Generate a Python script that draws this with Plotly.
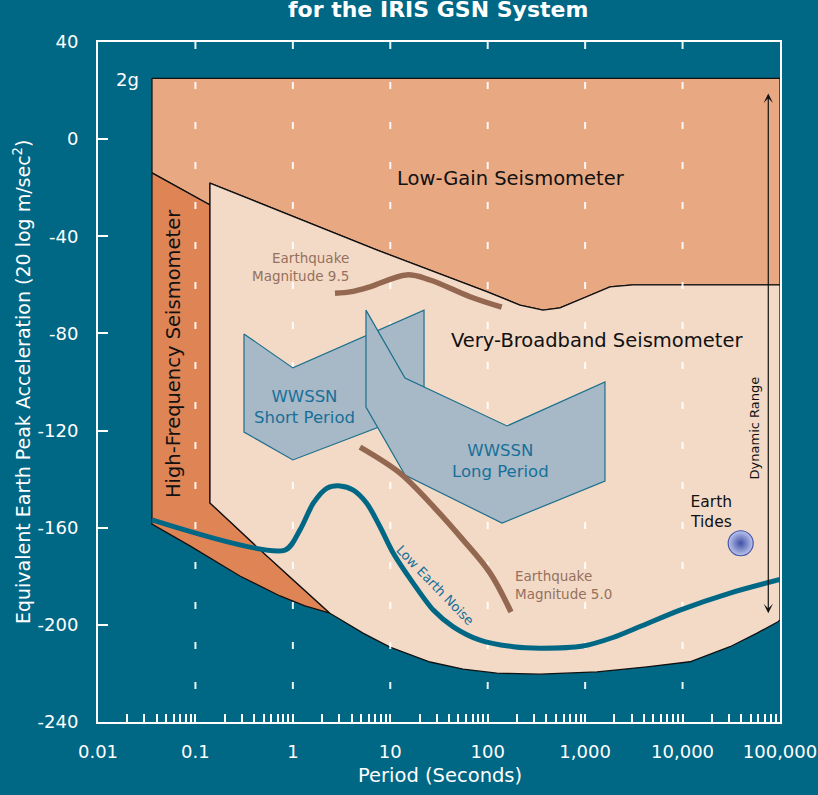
import math
import plotly.graph_objects as go

# ---------------- data (period in seconds, level in dB = 20 log m/s^2) ----------------
# Low-gain seismometer upper limit (2g)
lg_top_period = [0.0358, 100000]
lg_top_db = [25, 25]

# High-frequency seismometer top edge
hf_top_period = [0.0358, 0.141]
hf_top_db = [-13.9, -27.1]

# Very-broadband seismometer upper clip level (left to right)
vbb_top_period = [0.141, 7.24, 97.7, 214, 369, 552, 1038, 1799, 3098, 100000]
vbb_top_db = [-18.1, -45.6, -62.8, -68.3, -70.4, -69.5, -64.9, -60.8, -60.0, -60.0]

# Very-broadband lower-left edge (shared with high-frequency region)
vbb_left_period = [0.141, 0.428, 0.934, 2.40]
vbb_left_db = [-149.8, -167.9, -180.3, -195.2]

# High-frequency seismometer lower edge
hf_bottom_period = [0.0358, 0.0879, 0.286, 0.738, 1.33, 2.40]
hf_bottom_db = [-158.5, -167.5, -179.9, -188.1, -192.2, -195.2]

# Very-broadband self-noise floor (left to right)
vbb_bottom_period = [2.40, 5.25, 9.93, 25.6, 55.8, 124, 344, 1325, 4318, 11920, 30690, 57500, 95300, 100000]
vbb_bottom_db = [-195.2, -203.4, -209.2, -215.3, -218.2, -219.9, -220.3, -219.4, -217.3, -215.2, -209.0, -203.5, -198.7, -198.0]

# WWSSN instrument ranges
sp_period = [0.315, 1.0, 22.2, 22.2, 1.0, 0.315]
sp_db = [-80.2, -94.2, -70.4, -111.5, -132.1, -120.6]
lp_period = [5.63, 14.16, 157.8, 1598, 1598, 140.2, 14.16, 5.63]
lp_db = [-70.4, -98.4, -118.1, -100.0, -140.8, -158.1, -138.3, -110.3]

# Earthquake spectra
eq95_period = [2.707, 4.0, 6.19, 14.74, 25.55, 65.8, 139.1]
eq95_db = [-63.5, -62.8, -60.8, -55.9, -58.0, -64.9, -69.2]
eq50_period = [4.89, 12.58, 25.55, 55.8, 105.5, 173.3]
eq50_db = [-126.8, -137.5, -149.8, -165.0, -178.6, -194.7]

# Low Earth Noise model
len_period = [0.0358, 0.830, 1.184, 1.621, 2.225, 3.046, 4.172, 5.727, 7.843, 10.74, 17.23,
              27.63, 44.33, 83.3, 183.0, 344.0, 950.5, 1931, 3656, 9408, 30680, 100000]
len_db = [-156.8, -169.2, -160.9, -149.9, -143.8, -142.8, -144.5, -149.9, -159.6, -170.5, -182.9,
          -193.9, -200.8, -206.3, -209.0, -209.6, -208.7, -205.2, -200.7, -193.9, -186.9, -181.3]

# Earth tides
tides_period = [39500]
tides_db = [-166.4]

# Dynamic range arrow (period, top, bottom)
dr_period = 75800
dr_top_db = 19.4
dr_bottom_db = -195.2

# Axes
x_tick_vals = [0.01, 0.1, 1, 10, 100, 1000, 10000, 100000]
x_tick_text = ["0.01", "0.1", "1", "10", "100", "1,000", "10,000", "100,000"]
minor_mult = [2, 3, 4, 5, 6, 7, 8, 9]
grid_decades = [0.1, 1, 10, 100, 1000, 10000]
y_tick_vals = [-240, -200, -160, -120, -80, -40, 0, 40]
y_tick_text = ["-240", "-200", "-160", "-120", "-80", "-40", "0", "40"]

# ---------------- styling ----------------
TEAL = "#006785"
LOWGAIN = "#e7a882"
HIFREQ = "#df8455"
VBB = "#f3dac7"
WW_FILL = "#a7b8c6"
WW_LINE = "#1b6f8c"
WW_TEXT = "#17709a"
BROWN = "#946751"
BROWN_TXT = "#95705d"
FONT = "DejaVu Sans"

fig = go.Figure()


def polygon(xs, ys, fill, color, width):
    xs = list(xs) + [xs[0]]
    ys = list(ys) + [ys[0]]
    fig.add_trace(go.Scatter(x=xs, y=ys, mode="lines", fill="toself", fillcolor=fill,
                             line=dict(color=color, width=width),
                             hoverinfo="skip", showlegend=False))


# Low-gain region
lg_x = lg_top_period + [100000] + vbb_top_period[::-1] + hf_top_period[::-1]
lg_y = lg_top_db + [vbb_top_db[-1]] + vbb_top_db[::-1] + hf_top_db[::-1]
polygon(lg_x, lg_y, LOWGAIN, "#111111", 1.3)

# High-frequency region
hf_x = hf_top_period + vbb_left_period + hf_bottom_period[::-1]
hf_y = hf_top_db + vbb_left_db + hf_bottom_db[::-1]
polygon(hf_x, hf_y, HIFREQ, "#111111", 1.3)

# Very-broadband region
vbb_x = vbb_top_period + vbb_bottom_period[::-1] + vbb_left_period[::-1]
vbb_y = vbb_top_db + vbb_bottom_db[::-1] + vbb_left_db[::-1]
polygon(vbb_x, vbb_y, VBB, "#111111", 1.3)

# dashed decade grid (drawn above the filled regions)
gx, gy = [], []
for d in grid_decades:
    gx += [d, d, None]
    gy += [40, -240, None]
fig.add_trace(go.Scatter(x=gx, y=gy, mode="lines",
                         line=dict(color="rgba(255,255,255,0.92)", width=2, dash="7px,33px"),
                         hoverinfo="skip", showlegend=False))

# WWSSN boxes
polygon(sp_period, sp_db, WW_FILL, WW_LINE, 1.2)
polygon(lp_period, lp_db, WW_FILL, WW_LINE, 1.2)

# earthquake curves
for px_, py_ in [(eq95_period, eq95_db), (eq50_period, eq50_db)]:
    fig.add_trace(go.Scatter(x=px_, y=py_, mode="lines", line=dict(color=BROWN, width=5.5, shape="spline"),
                             hoverinfo="skip", showlegend=False))

# low earth noise
fig.add_trace(go.Scatter(x=len_period, y=len_db, mode="lines",
                         line=dict(color=TEAL, width=5, shape="spline", smoothing=0.8),
                         hoverinfo="skip", showlegend=False))

# earth tides
fig.add_trace(go.Scatter(x=tides_period, y=tides_db, mode="markers",
                         marker=dict(size=25, color="#bcc4ec",
                                     gradient=dict(type="radial", color="#3f50a6"),
                                     line=dict(color="#4456aa", width=1.2)),
                         hoverinfo="skip", showlegend=False))

L = math.log10
ann = []


def label(text, x, y, size, color, **kw):
    d = dict(text=text, x=L(x), y=y, xref="x", yref="y", showarrow=False,
             font=dict(family=FONT, size=size, color=color))
    d.update(kw)
    ann.append(d)


label("2g", 0.0203, 24.4, 18, "white")
label("Low-Gain Seismometer", 173, -16.0, 19.5, "#111111")
label("High-Frequency Seismometer", 0.0589, -88.5, 19.5, "#111111", textangle=-90)
label("Very-Broadband Seismometer", 1323, -83.1, 19.5, "#111111")
label("Earthquake<br>Magnitude 9.5", 3.97, -52.6, 13.5, BROWN_TXT, xanchor="right", align="right")
label("WWSSN<br>Short Period", 1.332, -110.1, 16.5, WW_TEXT)
label("WWSSN<br>Long Period", 136.8, -132.7, 16.5, WW_TEXT)
label("Low Earth Noise", 29.1, -183.6, 13, WW_TEXT, textangle=46)
label("Earthquake<br>Magnitude 5.0", 180.3, -183.5, 13.5, BROWN_TXT, xanchor="left", align="left")
label("Earth<br>Tides", 19570, -153.5, 15.5, "#111111")
label("Dynamic Range", 54080, -118.7, 13, "#111111", textangle=-90)

# dynamic range double arrow
ann.append(dict(x=L(dr_period), y=dr_bottom_db, ax=L(dr_period), ay=dr_top_db,
                xref="x", yref="y", axref="x", ayref="y", text="", showarrow=True,
                arrowhead=3, arrowside="end+start", arrowsize=1.3, arrowwidth=1.2,
                arrowcolor="#111111"))

# titles (explicit anchors so paper positions are centres)
ann.append(dict(text="<b>for the IRIS GSN System</b>", x=0.4985, y=1.0475, xref="paper", yref="paper",
                xanchor="center", yanchor="middle", showarrow=False,
                font=dict(family=FONT, size=22, color="white")))
ann.append(dict(text="Period (Seconds)", x=0.5015, y=-0.078, xref="paper", yref="paper",
                xanchor="center", yanchor="middle", showarrow=False,
                font=dict(family=FONT, size=19.5, color="white")))
ann.append(dict(text="Equivalent Earth Peak Acceleration (20 log m/sec<sup>2</sup>)", x=-0.1114, y=0.5,
                xref="paper", yref="paper", xanchor="center", yanchor="middle",
                textangle=-90, showarrow=False,
                font=dict(family=FONT, size=19, color="white")))

minor_vals = [m * d for d in [0.01, 0.1, 1, 10, 100, 1000, 10000] for m in minor_mult]

fig.update_layout(
    width=818, height=795, autosize=False,
    margin=dict(l=98, r=38, t=42, b=73, autoexpand=False),
    paper_bgcolor=TEAL, plot_bgcolor=TEAL,
    showlegend=False,
    annotations=ann,
    xaxis=dict(type="log", range=[-2, 5], showgrid=False, zeroline=False, automargin=False,
               showline=True, linecolor="white", linewidth=2, mirror=True,
               ticks="inside", ticklen=8, tickwidth=1.5, tickcolor="white",
               tickmode="array", tickvals=x_tick_vals, ticktext=x_tick_text,
               tickfont=dict(family=FONT, size=18, color="white"),
               ticklabelstandoff=12,
               minor=dict(ticks="inside", ticklen=8, tickwidth=1.5, tickcolor="white",
                          tickmode="array", tickvals=minor_vals, showgrid=False)),
    yaxis=dict(range=[-240, 40], showgrid=False, zeroline=False, automargin=False,
               showline=True, linecolor="white", linewidth=2, mirror=True,
               ticks="inside", ticklen=10, tickwidth=2, tickcolor="white",
               tickmode="array", tickvals=y_tick_vals, ticktext=y_tick_text,
               tickfont=dict(family=FONT, size=18, color="white"),
               ticklabelstandoff=14),
)

fig.write_html("out.html", config={"displayModeBar": False},
               post_script="document.body.style.margin='0';document.body.style.overflow='hidden';")
